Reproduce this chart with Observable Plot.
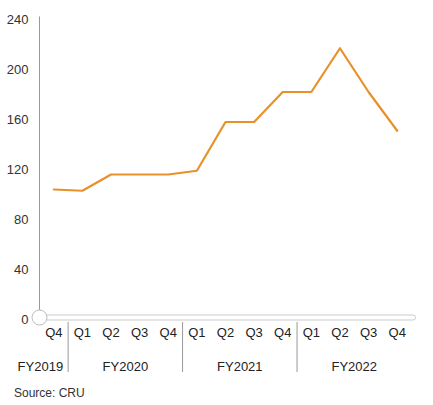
<!DOCTYPE html>
<html>
<head>
<meta charset="utf-8">
<script src="https://cdn.jsdelivr.net/npm/d3@7"></script>
<script src="https://cdn.jsdelivr.net/npm/@observablehq/plot@0.6"></script>
<style>
  body { margin: 0; background: #fff; font-family: "Liberation Sans", Arial, sans-serif; }
  #chart svg { display: block; }
  .caption { font-size: 12px; color: #333; margin: 6px 0 0 14px; }
</style>
</head>
<body>
<div id="chart"></div>
<div class="caption">Source: CRU</div>
<script>
const quarters = ["Q4","Q1","Q2","Q3","Q4","Q1","Q2","Q3","Q4","Q1","Q2","Q3","Q4"];
const fiscalYears = ["FY2019","FY2020","FY2020","FY2020","FY2020","FY2021","FY2021","FY2021","FY2021","FY2022","FY2022","FY2022","FY2022"];
const values = [104, 103, 116, 116, 116, 119, 158, 158, 182, 182, 217, 182, 151];
const yTicks = [0, 40, 80, 120, 160, 200, 240];
const yearLabels = ["FY2019", "FY2020", "FY2021", "FY2022"];
const yearCenters = [-0.47, 2.5, 6.5, 10.5];
const yearSeparators = [0.5, 4.5, 8.5];

const data = values.map((v, i) => ({i, v, q: quarters[i], fy: fiscalYears[i]}));
const years = yearLabels.map((label, k) => ({label, x: yearCenters[k]}));

const chart = Plot.plot({
  width: 433,
  height: 380,
  marginLeft: 39,
  marginRight: 22,
  marginTop: 19,
  marginBottom: 61,
  style: {fontFamily: "Liberation Sans, Arial, sans-serif", fontSize: "13px", color: "#333", background: "#fff"},
  x: {domain: [-0.5, 12.5], axis: null},
  y: {domain: [0, 240], ticks: yTicks},
  marks: [
    Plot.axisY({ticks: yTicks, tickSize: 0, tickPadding: 11, label: null, fontSize: 13, fill: "#333"}),
    Plot.ruleX([-0.5], {y1: 7, y2: 242, stroke: "#999", strokeWidth: 1}),
    Plot.rect([0], {x1: -0.5, x2: 12.66, y1: -0.8, y2: 3.2, fill: "#fff", stroke: "#ccc", strokeWidth: 1, rx: 2.5}),
    Plot.dot([0], {x: -0.5, y: 1.6, r: 7.5, fill: "#fff", stroke: "#bbb", strokeWidth: 1}),
    Plot.ruleX(yearSeparators, {y1: -2.4, y2: -42.4, stroke: "#999", strokeWidth: 1}),
    Plot.text(data, {x: "i", y: 0, text: "q", dy: 13, fontSize: 13, fill: "#222"}),
    Plot.text(years, {x: "x", y: 0, text: "label", dy: 47, fontSize: 13, fill: "#222"}),
    Plot.line(data, {x: "i", y: "v", stroke: "#E8912B", strokeWidth: 2.2})
  ]
});
document.getElementById("chart").appendChild(chart);
</script>
</body>
</html>
